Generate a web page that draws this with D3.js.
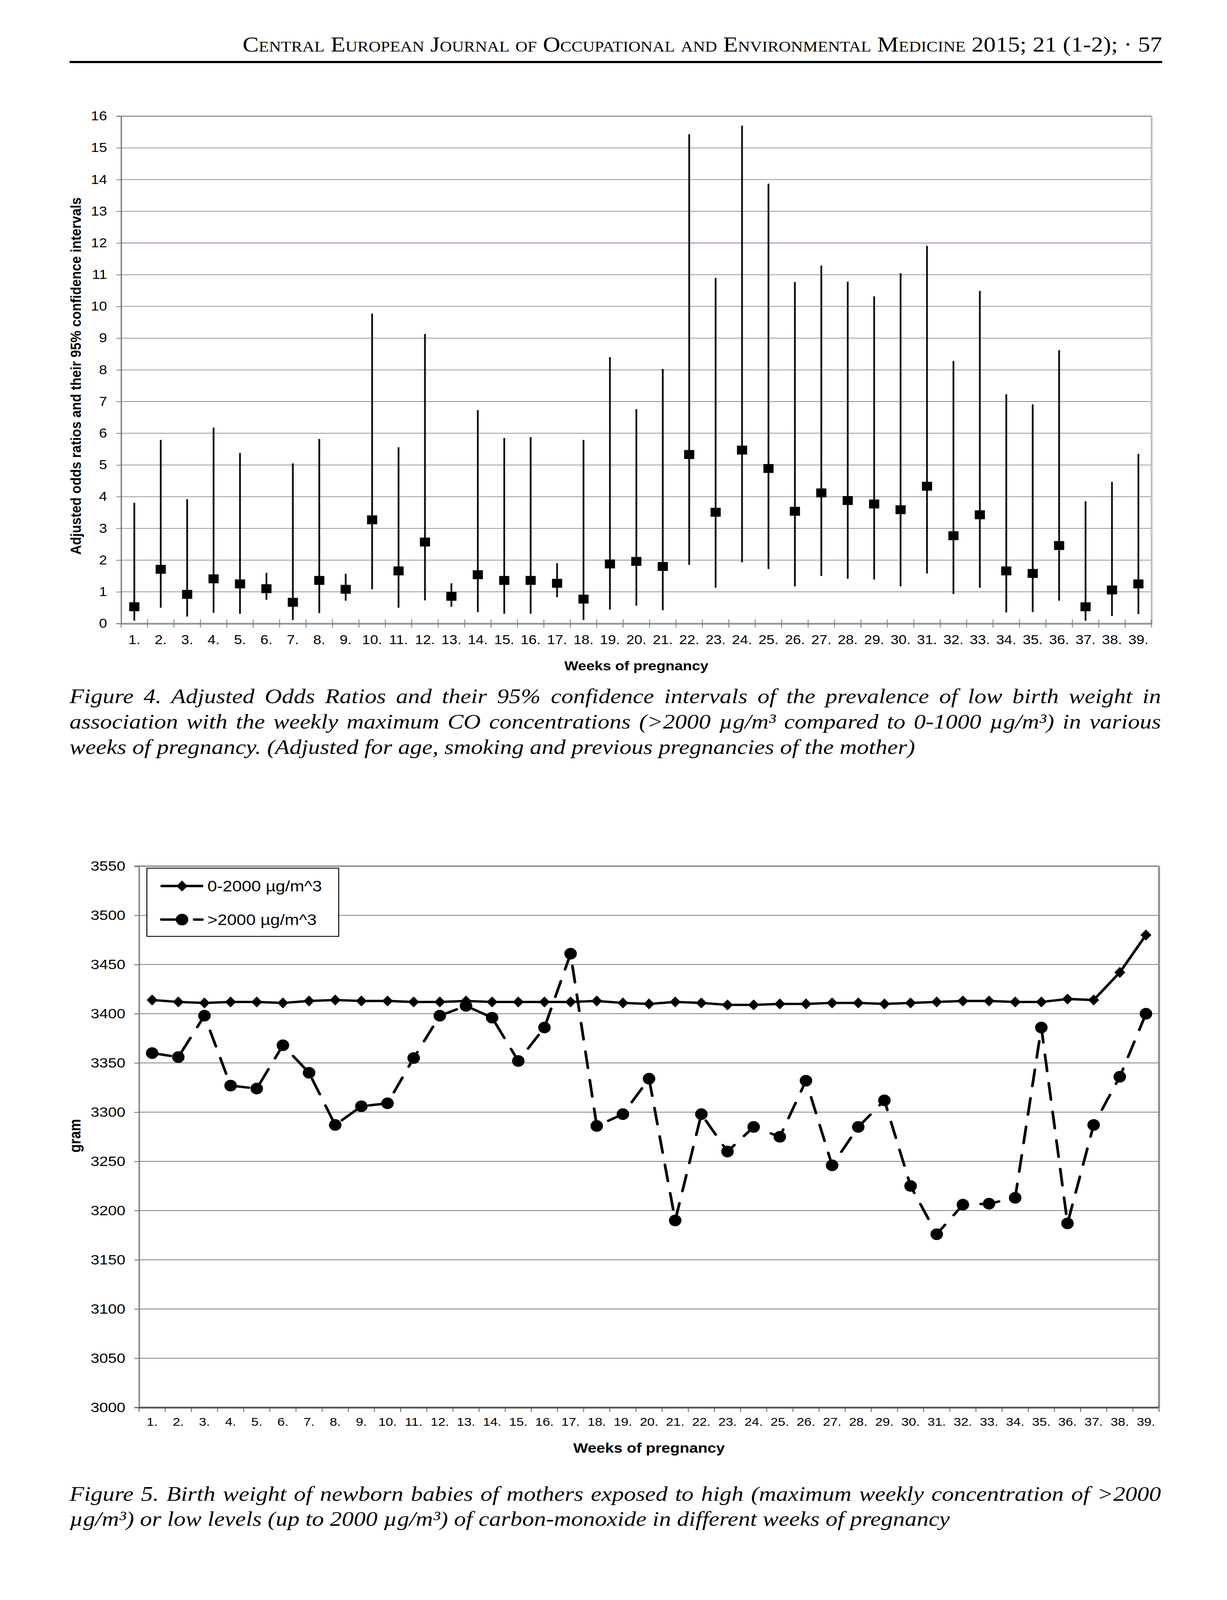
<!DOCTYPE html>
<html><head><meta charset="utf-8">
<script src="https://cdn.jsdelivr.net/npm/d3@7"></script>
<style>html,body{margin:0;padding:0;background:#fff;overflow:hidden}svg{display:block;width:100vw;height:100vh}</style>
</head><body>
<svg id="page" viewBox="0 0 3141 4670" preserveAspectRatio="none"></svg>
<script>
// ---------- DATA ----------
const weekLabels = ["1.","2.","3.","4.","5.","6.","7.","8.","9.","10.","11.","12.","13.","14.","15.","16.","17.","18.","19.","20.","21.","22.","23.","24.","25.","26.","27.","28.","29.","30.","31.","32.","33.","34.","35.","36.","37.","38.","39."];
// Figure 4: adjusted odds ratios with 95% CI
const orEstimate = [0.53,1.71,0.92,1.41,1.25,1.10,0.67,1.36,1.08,3.27,1.66,2.57,0.86,1.54,1.36,1.36,1.27,0.77,1.88,1.96,1.80,5.33,3.51,5.47,4.89,3.54,4.12,3.88,3.77,3.59,4.33,2.77,3.43,1.66,1.58,2.46,0.53,1.06,1.25];
const orLower    = [0.09,0.50,0.22,0.34,0.31,0.75,0.11,0.33,0.72,1.08,0.50,0.73,0.53,0.36,0.31,0.31,0.83,0.11,0.44,0.56,0.42,1.85,1.13,1.93,1.72,1.17,1.50,1.41,1.39,1.17,1.58,0.93,1.13,0.35,0.36,0.72,0.09,0.24,0.30];
const orUpper    = [3.81,5.79,3.92,6.18,5.38,1.60,5.05,5.82,1.57,9.77,5.56,9.13,1.27,6.73,5.85,5.88,1.90,5.79,8.40,6.76,8.03,15.43,10.90,15.70,13.87,10.77,11.29,10.78,10.32,11.05,11.91,8.28,10.49,7.23,6.91,8.62,3.86,4.47,5.35];
const orTicks = [0,1,2,3,4,5,6,7,8,9,10,11,12,13,14,15,16];
// Figure 5: birth weight (gram)
const seriesNames = ["0-2000 µg/m^3", ">2000 µg/m^3"];
const bwLow  = [3414,3412,3411,3412,3412,3411,3413,3414,3413,3413,3412,3412,3413,3412,3412,3412,3412,3413,3411,3410,3412,3411,3409,3409,3410,3410,3411,3411,3410,3411,3412,3413,3413,3412,3412,3415,3414,3442,3480];
const bwHigh = [3360,3356,3398,3327,3324,3368,3340,3287,3306,3309,3355,3398,3408,3396,3352,3386,3461,3286,3298,3334,3190,3298,3260,3285,3275,3332,3246,3285,3312,3225,3176,3206,3207,3213,3386,3187,3287,3336,3400];
const bwTicks = [3000,3050,3100,3150,3200,3250,3300,3350,3400,3450,3500,3550];

const headerText = "Central European Journal of Occupational and Environmental Medicine 2015; 21 (1-2); · 57";
const caption4 = [
 "Figure 4. Adjusted Odds Ratios and their 95% confidence intervals of the prevalence of low birth weight in",
 "association with the weekly maximum CO concentrations (>2000 µg/m³ compared to 0-1000 µg/m³) in various",
 "weeks of pregnancy. (Adjusted for age, smoking and previous pregnancies of the mother)"];
const caption5 = [
 "Figure 5. Birth weight of newborn babies of mothers exposed to high (maximum weekly concentration of >2000",
 "µg/m³) or low levels (up to 2000 µg/m³) of carbon-monoxide in different weeks of pregnancy"];

// ---------- DRAW ----------
const svg = d3.select("#page");
const SANS = "'Liberation Sans', Arial, Helvetica, sans-serif";
const SERIF = "'Liberation Serif', 'Times New Roman', serif";

// header
svg.append("text").attr("x",2975).attr("y",150).attr("text-anchor","end")
  .style("font-family",SERIF).style("font-size","61.5px").style("font-variant","small-caps")
  .attr("textLength",2354).attr("lengthAdjust","spacingAndGlyphs")
  .text(headerText);
svg.append("line").attr("x1",178).attr("x2",2975).attr("y1",181).attr("y2",181)
  .attr("stroke","#000").attr("stroke-width",6);

// captions
function caption(lines, x, y0, lh, targetW){
  lines.forEach((t,i)=>{
    const tx = svg.append("text").attr("x",x).attr("y",y0+i*lh)
      .style("font-family",SERIF).style("font-style","italic").style("font-size","61px").text(t);
    if(i < lines.length-1){
      const w = tx.node().getComputedTextLength();
      const n = (t.match(/ /g)||[]).length;
      tx.style("word-spacing", ((targetW-w)/n)+"px");
    }
  });
}
caption(caption4, 178, 2052, 74, 2794);
caption(caption5, 178, 4380, 73, 2794);

// ===== Figure 4 =====
(function(){
  const L=310, R=2948, T=339, B=1820;
  const x = d3.scaleBand().domain(weekLabels).range([L,R]);
  const y = d3.scaleLinear().domain([0,16]).range([B,T]);
  const g = svg.append("g");
  g.selectAll("line.grid").data(orTicks.filter(d=>d>0 && d<16)).join("line")
    .attr("x1",L).attr("x2",R).attr("y1",d=>y(d)).attr("y2",d=>y(d))
    .attr("stroke",d=>d===12?"#6a70a6":"#8a8a8a").attr("stroke-width",2);
  g.append("line").attr("x1",L).attr("x2",R).attr("y1",T).attr("y2",T).attr("stroke","#888").attr("stroke-width",3);
  g.append("line").attr("x1",R).attr("x2",R).attr("y1",T).attr("y2",B).attr("stroke","#c0c0c0").attr("stroke-width",5);
  const ya = g.append("g").attr("transform",`translate(${L},0)`)
    .call(d3.axisLeft(y).tickValues(orTicks).tickSize(12).tickPadding(24).tickFormat(d3.format("d")));
  ya.select(".domain").attr("stroke","#707070").attr("stroke-width",3);
  ya.selectAll(".tick line").attr("stroke","#707070").attr("stroke-width",2);
  ya.selectAll("text").style("font-family",SANS).style("font-size","37px").attr("fill","#000");
  const xa = g.append("g").attr("transform",`translate(0,${B})`)
    .call(d3.axisBottom(x).tickSize(0).tickPadding(0));
  xa.select(".domain").attr("stroke","#8a9898").attr("stroke-width",5);
  xa.selectAll("text").attr("y",60).attr("dy",0).style("font-family",SANS).style("font-size","37px").attr("fill","#000");
  g.selectAll("line.xt").data(weekLabels.map(d=>x(d)).concat([R])).join("line")
    .attr("x1",d=>d).attr("x2",d=>d).attr("y1",B-12).attr("y2",B+12).attr("stroke","#777").attr("stroke-width",2);
  const cx = i => x(weekLabels[i]) + x.bandwidth()/2;
  g.selectAll("line.ci").data(orEstimate).join("line")
    .attr("x1",(d,i)=>cx(i)).attr("x2",(d,i)=>cx(i))
    .attr("y1",(d,i)=>y(orLower[i])).attr("y2",(d,i)=>y(orUpper[i]))
    .attr("stroke","#0a0a18").attr("stroke-width",4.5);
  g.selectAll("rect.est").data(orEstimate).join("rect")
    .attr("x",(d,i)=>cx(i)-13).attr("y",d=>y(d)-13).attr("width",26).attr("height",26).attr("fill","#000");
  g.append("text").attr("transform",`translate(207,${(576+1619)/2}) rotate(-90)`)
    .attr("text-anchor","middle").style("font-family",SANS).style("font-weight","bold").style("font-size","37px")
    .attr("textLength",1043).attr("lengthAdjust","spacingAndGlyphs")
    .text("Adjusted odds ratios and their 95% confidence intervals");
  g.append("text").attr("x",(L+R)/2).attr("y",1957).attr("text-anchor","middle")
    .style("font-family",SANS).style("font-weight","bold").style("font-size","38px").text("Weeks of pregnancy");
})();

// ===== Figure 5 =====
(function(){
  const L=356, R=2967, T=2528, B=4108;
  const x = d3.scaleBand().domain(weekLabels).range([L,R]);
  const y = d3.scaleLinear().domain([3000,3550]).range([B,T]);
  const g = svg.append("g");
  g.selectAll("line.grid").data(bwTicks.filter(d=>d>3000 && d<3550)).join("line")
    .attr("x1",L).attr("x2",R).attr("y1",d=>y(d)).attr("y2",d=>y(d))
    .attr("stroke","#6e6e6e").attr("stroke-width",2);
  g.append("line").attr("x1",L).attr("x2",R).attr("y1",T).attr("y2",T).attr("stroke","#888").attr("stroke-width",4);
  g.append("line").attr("x1",R).attr("x2",R).attr("y1",T).attr("y2",B).attr("stroke","#8c8c8c").attr("stroke-width",5);
  const ya = g.append("g").attr("transform",`translate(${L},0)`)
    .call(d3.axisLeft(y).tickValues(bwTicks).tickSize(12).tickPadding(23).tickFormat(d3.format("d")));
  ya.select(".domain").attr("stroke","#888").attr("stroke-width",4);
  ya.selectAll(".tick line").attr("stroke","#555").attr("stroke-width",2);
  ya.selectAll("text").style("font-family",SANS).style("font-size","40px").attr("fill","#000");
  const xa = g.append("g").attr("transform",`translate(0,${B})`)
    .call(d3.axisBottom(x).tickSize(0).tickPadding(0));
  xa.select(".domain").attr("stroke","#555").attr("stroke-width",5);
  xa.selectAll("text").attr("y",53).attr("dy",0).style("font-family",SANS).style("font-size","34px").attr("fill","#000");
  g.selectAll("line.xt").data(weekLabels.map(d=>x(d)).concat([R])).join("line")
    .attr("x1",d=>d).attr("x2",d=>d).attr("y1",B).attr("y2",B+13).attr("stroke","#555").attr("stroke-width",2);
  const cx = i => x(weekLabels[i]) + x.bandwidth()/2;
  const line = d3.line().x((d,i)=>cx(i)).y(d=>y(d));
  g.append("path").attr("d",line(bwLow)).attr("fill","none").attr("stroke","#000").attr("stroke-width",7).attr("stroke-linejoin","round");
  const diamond = (px,py)=>`M${px},${py-16}L${px+14},${py}L${px},${py+16}L${px-14},${py}Z`;
  g.selectAll("path.dm").data(bwLow).join("path").attr("d",(d,i)=>diamond(cx(i),y(d))).attr("fill","#000");
  g.append("path").attr("d",line(bwHigh)).attr("fill","none").attr("stroke","#000").attr("stroke-width",7)
    .attr("stroke-linecap","round").attr("stroke-dasharray","48,36");
  g.selectAll("ellipse.ci").data(bwHigh).join("ellipse").attr("cx",(d,i)=>cx(i)).attr("cy",d=>y(d))
    .attr("rx",16).attr("ry",17).attr("fill","#000");
  const lg = g.append("g");
  lg.append("rect").attr("x",376).attr("y",2534).attr("width",491).attr("height",199)
    .attr("fill","#fff").attr("stroke","#000").attr("stroke-width",2.5);
  lg.append("line").attr("x1",411).attr("x2",520).attr("y1",2586).attr("y2",2586).attr("stroke","#000").attr("stroke-width",7);
  lg.append("path").attr("d",diamond(466,2586)).attr("fill","#000");
  lg.append("line").attr("x1",413).attr("x2",518).attr("y1",2684).attr("y2",2684).attr("stroke","#000").attr("stroke-width",7)
    .attr("stroke-linecap","round").attr("stroke-dasharray","48,36");
  lg.append("ellipse").attr("cx",466).attr("cy",2684).attr("rx",16).attr("ry",17).attr("fill","#000");
  lg.selectAll("text").data(seriesNames).join("text").attr("x",531).attr("y",(d,i)=>[2586,2684][i]).attr("dy","0.36em")
    .style("font-family",SANS).style("font-size","44px").text(d=>d);
  g.append("text").attr("transform",`translate(206,3315) rotate(-90)`).attr("text-anchor","middle")
    .style("font-family",SANS).style("font-weight","bold").style("font-size","40px").text("gram");
  g.append("text").attr("x",(L+R)/2).attr("y",4240).attr("text-anchor","middle")
    .style("font-family",SANS).style("font-weight","bold").style("font-size","40px").text("Weeks of pregnancy");
})();
</script>
</body></html>
